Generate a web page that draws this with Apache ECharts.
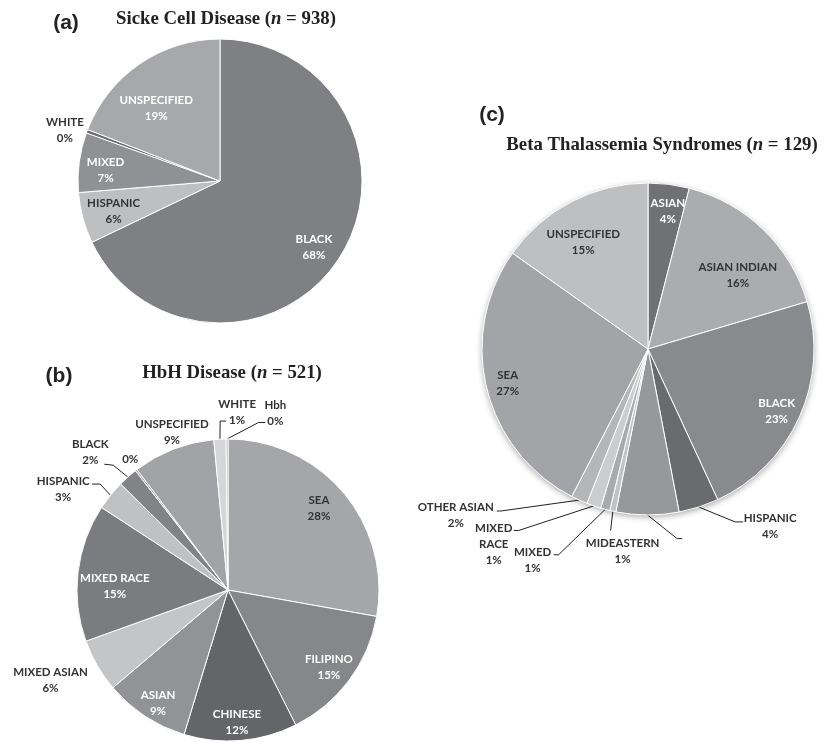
<!DOCTYPE html>
<html>
<head>
<meta charset="utf-8">
<script src="https://cdn.jsdelivr.net/npm/echarts@6/dist/echarts.min.js"></script>
<style>
  html, body { margin: 0; padding: 0; background: #fff; }
  #chart { width: 829px; height: 745px; }
</style>
</head>
<body>
<div id="chart"></div>
<script>
// (a) Sickle cell disease, n = 938 — share of patients (%) by race/ethnicity
const scdCategories = ['BLACK', 'HISPANIC', 'MIXED', 'WHITE', 'UNSPECIFIED'];
const scdShares = [67.9, 5.8, 6.8, 0.4, 19.1];

// (b) HbH disease, n = 521
const hbhCategories = ['SEA', 'FILIPINO', 'CHINESE', 'ASIAN', 'MIXED ASIAN', 'MIXED RACE',
  'HISPANIC', 'BLACK', '', 'UNSPECIFIED', 'WHITE', 'Hbh'];
const hbhShares = [27.8, 14.8, 12.1, 9.1, 5.7, 14.7, 3.2, 2.1, 0.2, 8.8, 1.3, 0.2];

// (c) Beta thalassemia syndromes, n = 129
const btCategories = ['ASIAN', 'ASIAN INDIAN', 'BLACK', 'HISPANIC', '', 'MIDEASTERN', 'MIXED',
  'MIXED RACE', 'OTHER ASIAN', 'SEA', 'UNSPECIFIED'];
const btShares = [4.0, 16.4, 22.7, 3.9, 6.1, 0.6, 0.9, 1.4, 1.6, 27.2, 15.2];

// ---- styling ----
const DARK = '#333';
const LIGHT = '#fff';

const scdColors = ['#7f8084', '#bebfc1', '#909195', '#6b6b6e', '#a7a8ab'];
const scdText = [LIGHT, DARK, LIGHT, DARK, LIGHT];

const hbhColors = ['#a5a6a9', '#86878b', '#646568', '#929397', '#c4c5c7', '#7b7c80',
  '#c0c1c3', '#828387', '#9a9b9e', '#a2a3a6', '#d5d6d8', '#a5a6a9'];
const hbhText = [DARK, LIGHT, LIGHT, LIGHT, DARK, LIGHT, DARK, DARK, DARK, DARK, DARK, DARK];

const btColors = ['#707175', '#abacaf', '#898a8e', '#6a6b6e', '#97989c', '#c2c3c5', '#a9aaad',
  '#cbccce', '#b5b6b8', '#a3a4a7', '#bebfc1'];
const btText = [LIGHT, DARK, LIGHT, DARK, DARK, DARK, DARK, DARK, DARK, DARK, DARK];

// Label placement: f = distance from centre as a fraction of the radius,
// da = angular nudge (deg) from the slice middle, leader = elbow/end offsets from label centre
const scdLabelPos = [
  { f: 0.81, da: 3 }, { f: 0.78, da: -1 }, { f: 0.81, da: -2 },
  { f: 1.15, da: -2.3 }, { f: 0.68, da: -7 }
];
const hbhLabelPos = [
  { f: 0.81, da: -2 }, { f: 0.84, da: 0.6 }, { f: 0.88, da: 1 }, { f: 0.88, da: -1.5 },
  { f: 1.32, da: 3 }, { f: 0.75, da: -5 },
  { f: 1.28, da: -7.4, leader: [[37, -5], [29, -5]] },
  { f: 1.29, da: -3.4, leader: [[23, 13], [14, 12]] },
  { f: 1.08, da: 0.6 },
  { f: 1.11, da: 1.7 },
  { f: 1.18, da: 6, leader: [[-17, 9], [-11, 9]] },
  { f: 1.21, da: 15.4, leader: [[-17, 9], [-10, 9]] }
];
const btLabelPos = [
  { f: 0.84, da: 1 }, { f: 0.70, da: 6.7 }, { f: 0.86, da: 1.4 },
  { f: 1.295, da: -16.8, leader: [[-35, -4], [-27, -4]] },
  { f: 1.17, da: -12.7, blank: true, leader: [[-13, 0], [-8, 0]] },
  { f: 1.23, da: -5.1, leader: [[-12, -21], [-12, -21]] },
  { f: 1.45, da: 13.7, leader: [[26, -5.5], [21, -5.5]] },
  { f: 1.5, da: 19.2, wrap: true, leader: [[25, -14], [20, -14]] },
  { f: 1.53, da: 24.7, leader: [[45, -4], [41, -4]] },
  { f: 0.87, da: 0 }, { f: 0.75, da: -4 }
];

const LABEL_FONT = 'Lato';

function pieSeries(cfg) {
  const { center, radius, names, values, colors, textColors, pos } = cfg;
  const total = values.reduce((a, b) => a + b, 0);
  let acc = 0;
  // slice middle angles, clockwise from 12 o'clock
  const mids = values.map(v => { const m = (acc + v / 2) / total * 360; acc += v; return m; });
  const at = (deg, dist) => {
    const a = deg * Math.PI / 180;
    return [center[0] + dist * Math.sin(a), center[1] - dist * Math.cos(a)];
  };
  return {
    type: 'pie',
    center: center,
    radius: radius,
    startAngle: 90,
    clockwise: true,
    avoidLabelOverlap: false,
    animation: false,
    silent: true,
    itemStyle: { borderColor: '#fff', borderWidth: 1 },
    label: {
      show: true,
      position: 'outside',
      fontFamily: LABEL_FONT,
      fontWeight: 'bold',
      fontSize: 11.5,
      lineHeight: 16,
      align: 'center',
      formatter: p => {
        const s = pos[p.dataIndex];
        if (s.blank) return ' ';
        const pct = Math.round(p.percent) + '%';
        const nm = s.wrap ? p.name.replace(' ', '\n') : p.name;
        return nm ? nm + '\n' + pct : pct;
      }
    },
    labelLine: { show: false, lineStyle: { color: '#222', width: 1 } },
    data: names.map((n, i) => ({
      name: n,
      value: values[i],
      itemStyle: { color: colors[i] },
      label: { color: textColors[i] },
      labelLine: { show: !!pos[i].leader }
    })),
    labelLayout: params => {
      const i = params.dataIndex;
      const s = pos[i];
      const [x, y] = at(mids[i] + (s.da || 0), s.f * radius);
      const out = { x: x, y: y, align: 'center', verticalAlign: 'middle' };
      if (s.leader) {
        out.labelLinePoints = [at(mids[i], radius)].concat(s.leader.map(([dx, dy]) => [x + dx, y + dy]));
      }
      return out;
    }
  };
}

const titleFont = { fontFamily: 'Liberation Serif', fontWeight: 'bold', fontSize: 18.8, color: '#222', lineHeight: 22 };
const tagFont = { fontFamily: 'Liberation Sans', fontWeight: 'bold', fontSize: 21, color: '#222', lineHeight: 24 };
const richTitle = {
  r: titleFont,
  i: Object.assign({}, titleFont, { fontStyle: 'italic' })
};

function heading(tag, tagX, tagY, text, n, x, y) {
  return [
    { text: tag, left: tagX, top: tagY, padding: 0, textAlign: 'center', textStyle: tagFont },
    { text: '{r|' + text + ' (}{i|n}{r| = ' + n + ')}', left: x, top: y, padding: 0,
      textAlign: 'center', textStyle: { rich: richTitle } }
  ];
}

const chart = echarts.init(document.getElementById('chart'), null, { renderer: 'canvas' });
chart.setOption({
  backgroundColor: '#fff',
  animation: false,
  title: [].concat(
    heading('(a)', 66, 11, 'Sicke Cell Disease', 938, 226, 8),
    heading('(b)', 59, 364, 'HbH Disease', 521, 232, 362),
    heading('(c)', 492, 103, 'Beta Thalassemia Syndromes', 129, 662, 134)
  ),
  series: [
    {
      // soft drop shadow under pie (c)
      type: 'pie', center: [648, 349], radius: 166, silent: true, animation: false,
      label: { show: false }, labelLine: { show: false },
      itemStyle: { color: '#fff', shadowBlur: 6, shadowColor: 'rgba(0,0,0,0.35)', shadowOffsetY: 2 },
      data: [{ value: 1, name: 'base' }]
    },
    pieSeries({ center: [220, 181], radius: 142, names: scdCategories, values: scdShares,
      colors: scdColors, textColors: scdText, pos: scdLabelPos }),
    pieSeries({ center: [228, 590], radius: 151, names: hbhCategories, values: hbhShares,
      colors: hbhColors, textColors: hbhText, pos: hbhLabelPos }),
    pieSeries({ center: [648, 349], radius: 166, names: btCategories, values: btShares,
      colors: btColors, textColors: btText, pos: btLabelPos })
  ]
});
</script>
</body>
</html>
